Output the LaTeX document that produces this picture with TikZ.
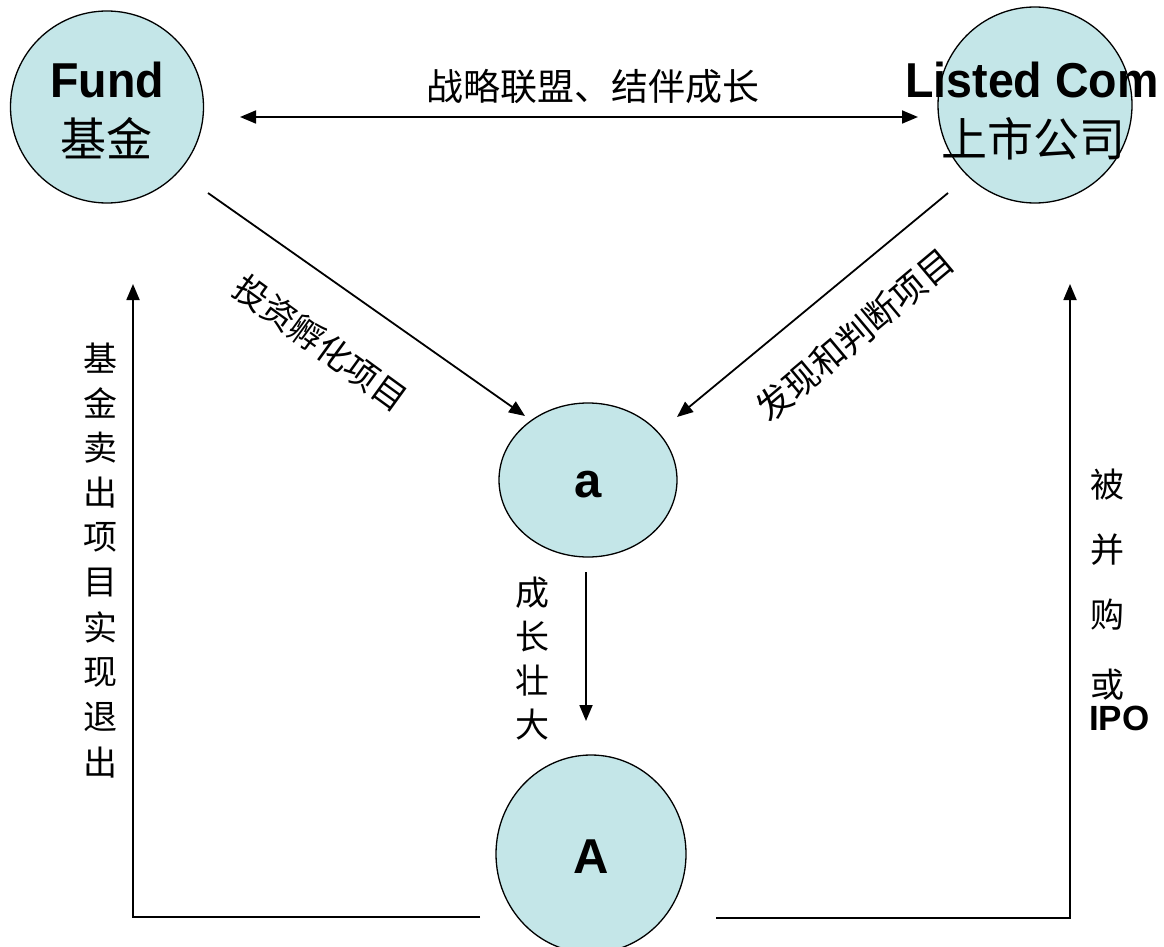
\documentclass[tikz,border=0pt]{standalone}
\usepackage{fontspec}
\setmainfont{Liberation Sans}
\newfontfamily\cjk{Noto Sans CJK SC}
\usetikzlibrary{arrows.meta,shapes.geometric}
\definecolor{bubble}{RGB}{196,230,232}
\newcommand{\narrow}[1]{\scalebox{0.95}[1]{#1}}
\begin{document}
\begin{tikzpicture}[x=1pt,y=-1pt,
  bub/.style={ellipse, draw=black, line width=1.3pt, fill=bubble, inner sep=0pt},
  conn/.style={line width=1.8pt, -{Triangle[length=16pt,width=13pt]}},
  en/.style={font=\fontsize{49}{60}\selectfont\bfseries, inner sep=0pt},
  zh/.style={font=\fontsize{46}{55}\selectfont\cjk, inner sep=0pt},
  lab/.style={font=\fontsize{36}{40}\selectfont\cjk, inner sep=0pt},
  vlab/.style={font=\fontsize{34}{40}\selectfont\cjk, inner sep=0pt},
]
\useasboundingbox (0,0) rectangle (1164,947);
\fill[white] (0,0) rectangle (1164,947);

% bubbles
\node[bub, minimum width=193pt, minimum height=192pt] (fund) at (107,107) {};
\node[bub, minimum width=194pt, minimum height=196pt] (listed) at (1035,105) {};
\node[bub, minimum width=178pt, minimum height=154pt] (a) at (588,480) {};
\node[bub, minimum width=190pt, minimum height=198pt] (A) at (591,854) {};

% bubble texts
\node[en] (fundEn) at (107,80) {\narrow{Fund}};
\node[zh] (fundZh) at (106,138) {基金};
\node[en] (listEn) at (1032,80) {\narrow{Listed Com}};
\node[zh] (listZh) at (1033,139) {上市公司};
\node[en] (aTxt) at (588,485) {a};
\node[en] (ATxt) at (591,857) {A};

% connector end points
\coordinate (t1) at (240,117);
\coordinate (t2) at (918,117);
\coordinate (f1) at (208,193);
\coordinate (a1) at (525,416);
\coordinate (l1) at (948,193);
\coordinate (a2) at (677,417);
\coordinate (g1) at (586,572);
\coordinate (g2) at (586,721);
\coordinate (bl1) at (480,917);
\coordinate (bl2) at (133,917);
\coordinate (bl3) at (133,284);
\coordinate (br1) at (716,918);
\coordinate (br2) at (1070,918);
\coordinate (br3) at (1070,284);

% connectors
\draw[line width=1.8pt, {Triangle[length=16pt,width=13pt]}-{Triangle[length=16pt,width=13pt]}] (t1) -- (t2);
\draw[conn] (f1) -- (a1);
\draw[conn] (l1) -- (a2);
\draw[conn] (g1) -- (g2);
\draw[conn] (bl1) -- (bl2) -- (bl3);
\draw[conn] (br1) -- (br2) -- (br3);

% labels
\node[font=\fontsize{37}{40}\selectfont\cjk, inner sep=0pt] (topLab) at (593,87) {战略联盟、结伴成长};
\node[lab, font=\fontsize{34}{40}\selectfont\cjk, rotate=-36] (invLab) at (321,343) {投资孵化项目};
\node[lab, font=\fontsize{35}{40}\selectfont\cjk, rotate=40] (findLab) at (855,335) {发现和判断项目};

\foreach \t [count=\i] in {成,长,壮,大}
  \node[vlab] (grow\i) at (532,{593+44*(\i-1)}) {\t};

\foreach \t [count=\i] in {基,金,卖,出,项,目,实,现,退,出}
  \node[vlab] (exit\i) at (100,{358+44.9*(\i-1)}) {\t};

\node[vlab, anchor=west] (ipo1) at (1090,485) {被};
\node[vlab, anchor=west] (ipo2) at (1090,550) {并};
\node[vlab, anchor=west] (ipo3) at (1090,615) {购};
\node[vlab, anchor=west] (ipo4) at (1090,685) {或};
\node[font=\fontsize{35}{40}\selectfont\bfseries, inner sep=0pt, anchor=west] (ipo5) at (1089,718) {IPO};
\end{tikzpicture}
\end{document}
